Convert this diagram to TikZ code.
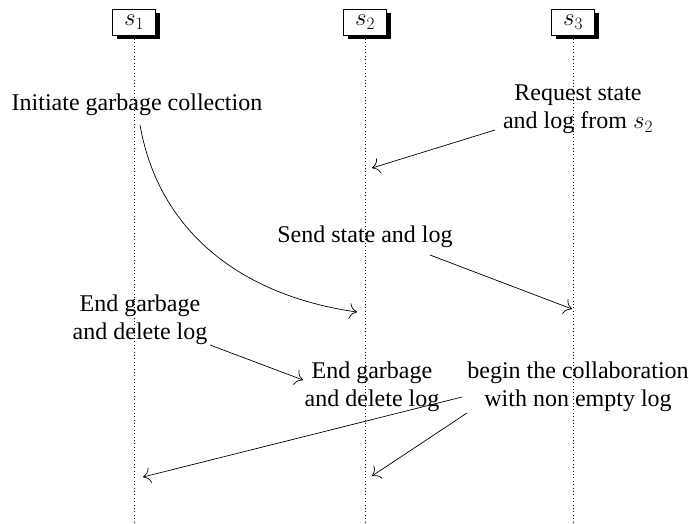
\documentclass[tikz,border=0pt]{standalone}
\usepackage{fontspec}
\setmainfont{Liberation Serif}
\usetikzlibrary{shadows,arrows.meta}
\begin{document}
\begin{tikzpicture}[x=1pt,y=-1pt,
  every node/.style={font=\fontsize{24}{28}\selectfont},
  proc/.style={draw, fill=white, minimum width=43pt, minimum height=26pt, inner sep=0pt, line width=0.7pt,
    drop shadow={shadow xshift=4pt, shadow yshift=-4pt, fill=black, opacity=1}},
  life/.style={dash pattern=on 0.8pt off 2.6pt, line width=0.6pt},
  msg/.style={-{To[scale=2.4]}, line width=0.7pt},
  lbl/.style={align=center, inner sep=0pt}]
\useasboundingbox (0,0) rectangle (689,523);
% processes
\node[proc] (s1) at (134,22) {$s_1$};
\node[proc] (s2) at (365,22) {$s_2$};
\node[proc] (s3) at (573,22) {$s_3$};
\coordinate (e1) at (134,522);
\coordinate (e2) at (365,522);
\coordinate (e3) at (573,522);
\draw[life] (s1.south) -- (e1);
\draw[life] (s2.south) -- (e2);
\draw[life] (s3.south) -- (e3);
% labels
\node[lbl] (t1) at (137,105) {Initiate garbage collection};
\node[lbl] (t2) at (578,109) {Request state\\and log from $s_2$};
\node[lbl] (t3) at (365,237) {Send state and log};
\node[lbl] (t4) at (140,320) {End garbage\\and delete log};
\node[lbl] (t5) at (372,387) {End garbage\\and delete log};
\node[lbl] (t6) at (578,387) {begin the collaboration\\with non empty log};
% arrow endpoints
\coordinate (a1s) at (140,125);
\coordinate (a1e) at (357,312);
\coordinate (a2s) at (495,130);
\coordinate (a2e) at (372,168);
\coordinate (a3s) at (430,255);
\coordinate (a3e) at (572,309);
\coordinate (a4s) at (210,345);
\coordinate (a4e) at (303,380);
\coordinate (a5s) at (462,397);
\coordinate (a5e) at (143,477);
\coordinate (a6s) at (467,413);
\coordinate (a6e) at (372,476);
\draw[msg] (a1s) to[out=-80, in=172] (a1e);
\draw[msg] (a2s) -- (a2e);
\draw[msg] (a3s) -- (a3e);
\draw[msg] (a4s) -- (a4e);
\draw[msg] (a5s) -- (a5e);
\draw[msg] (a6s) -- (a6e);
\end{tikzpicture}
\end{document}
